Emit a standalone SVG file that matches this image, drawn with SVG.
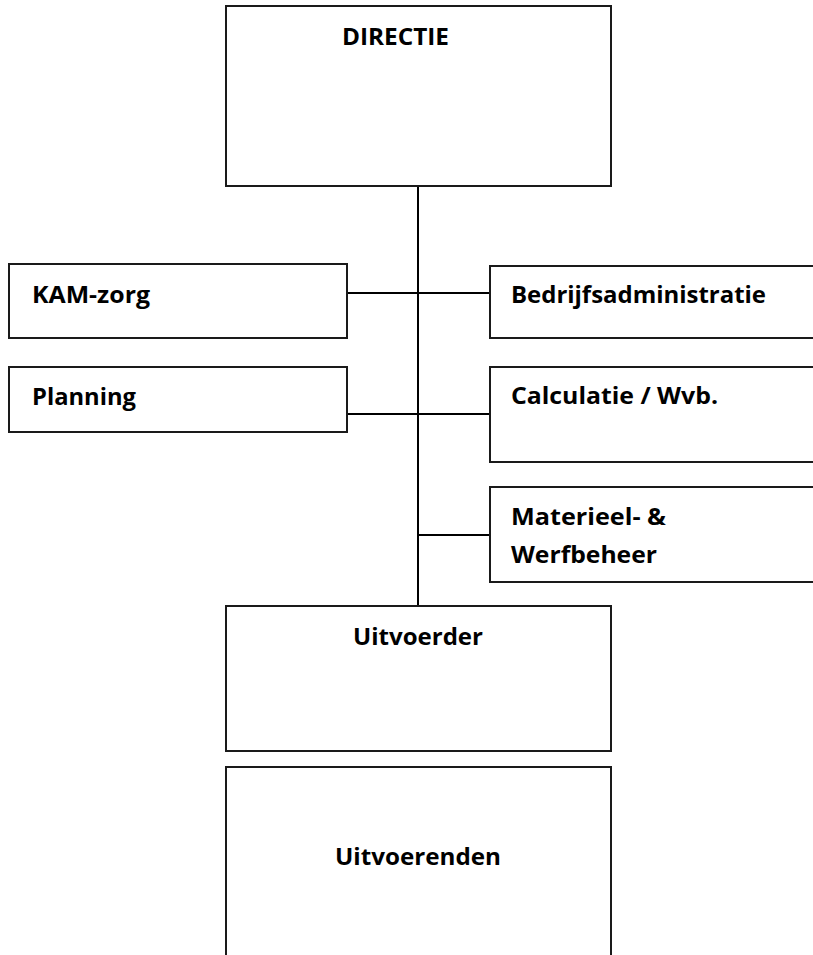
<svg xmlns="http://www.w3.org/2000/svg" width="813" height="955" viewBox="0 0 813 955">
<style>
.box{fill:#fff;stroke:#1a1a1a;stroke-width:2}
.lbl{font-family:"Open Sans","Liberation Sans",sans-serif;font-weight:bold;font-size:24px;fill:#000}
.c{text-anchor:middle}
.conn{stroke:#000;stroke-width:2;fill:none}
</style>
<rect width="813" height="955" fill="#fff"/>
<g id="connectors">
<line class="conn" x1="418" y1="186" x2="418" y2="606"/>
<line class="conn" x1="347" y1="293" x2="490" y2="293"/>
<line class="conn" x1="347" y1="414" x2="490" y2="414"/>
<line class="conn" x1="418" y1="535" x2="490" y2="535"/>
</g>
<g id="directie">
<rect class="box" x="226" y="6" width="385" height="180"/>
<text class="lbl" x="342" y="45" textLength="107" lengthAdjust="spacingAndGlyphs">DIRECTIE</text>
</g>
<g id="kam">
<rect class="box" x="9" y="264" width="338" height="74"/>
<text class="lbl" x="32" y="303" textLength="118" lengthAdjust="spacingAndGlyphs">KAM-zorg</text>
</g>
<g id="planning">
<rect class="box" x="9" y="367" width="338" height="65"/>
<text class="lbl" x="32" y="405" textLength="104" lengthAdjust="spacingAndGlyphs">Planning</text>
</g>
<g id="bedrijfsadministratie">
<rect class="box" x="490" y="266" width="340" height="72"/>
<text class="lbl" x="511" y="303" textLength="255" lengthAdjust="spacingAndGlyphs">Bedrijfsadministratie</text>
</g>
<g id="calculatie">
<rect class="box" x="490" y="367" width="340" height="95"/>
<text class="lbl" x="511" y="404" textLength="207" lengthAdjust="spacingAndGlyphs">Calculatie / Wvb.</text>
</g>
<g id="materieel">
<rect class="box" x="490" y="487" width="340" height="95"/>
<text class="lbl" x="511" y="525" textLength="155" lengthAdjust="spacingAndGlyphs">Materieel- &amp;</text>
<text class="lbl" x="511" y="563" textLength="146" lengthAdjust="spacingAndGlyphs">Werfbeheer</text>
</g>
<g id="uitvoerder">
<rect class="box" x="226" y="606" width="385" height="145"/>
<text class="lbl" x="353" y="645" textLength="130" lengthAdjust="spacingAndGlyphs">Uitvoerder</text>
</g>
<g id="uitvoerenden">
<rect class="box" x="226" y="767" width="385" height="200"/>
<text class="lbl" x="335" y="865" textLength="166" lengthAdjust="spacingAndGlyphs">Uitvoerenden</text>
</g>
</svg>
